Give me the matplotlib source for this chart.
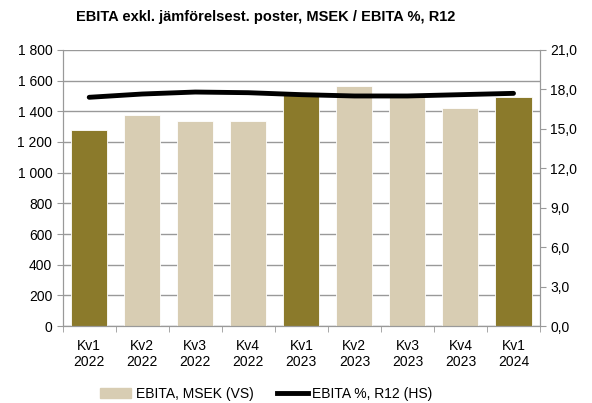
import matplotlib
matplotlib.use("Agg")
import matplotlib.pyplot as plt
import numpy as np

plt.rcParams['font.family'] = ['Liberation Sans', 'DejaVu Sans']

# data
categories = ["Kv1\n2022", "Kv2\n2022", "Kv3\n2022", "Kv4\n2022", "Kv1\n2023",
              "Kv2\n2023", "Kv3\n2023", "Kv4\n2023", "Kv1\n2024"]
ebita_msek = [1280, 1378, 1338, 1340, 1527, 1566, 1495, 1423, 1495]
ebita_pct = [17.4, 17.65, 17.8, 17.75, 17.6, 17.5, 17.5, 17.6, 17.7]
left_ticks = [0, 200, 400, 600, 800, 1000, 1200, 1400, 1600, 1800]
right_ticks = [0, 3, 6, 9, 12, 15, 18, 21]

dark = "#8B7A2B"
light = "#D8CDB3"
grey = "#999999"
bar_colors = [dark if c.startswith("Kv1") else light for c in categories]

fig = plt.figure(figsize=(5.92, 4.03), dpi=100)
ax = fig.add_axes([0.1059, 0.191, 0.8063, 0.685])
x = np.arange(len(categories))

ax.grid(axis='y', color=grey, linewidth=1)
ax.set_axisbelow(True)
ax.bar(x, ebita_msek, width=0.68, color=bar_colors, edgecolor="white", linewidth=0.6, zorder=2)
ax.set_ylim(0, 1800)
ax.set_xlim(-0.5, len(categories) - 0.5)
ax.set_yticks(left_ticks)
ax.set_yticklabels([f"{v:,}".replace(",", " ") for v in left_ticks], fontsize=10)
ax.set_xticks(x)
ax.set_xticklabels(categories, fontsize=10)
ax.set_xticks(np.arange(-0.5, len(categories)), minor=True)
ax.tick_params(axis='x', which='major', length=0, pad=9)
ax.tick_params(axis='x', which='minor', length=4, color=grey)
ax.tick_params(axis='y', length=4, color=grey)
for s in ax.spines.values():
    s.set_color(grey)
ax.spines['top'].set_visible(False)

ax2 = ax.twinx()
ax2.plot(x, ebita_pct, color="black", linewidth=3.5, solid_capstyle='round', solid_joinstyle='round', zorder=3)
ax2.set_ylim(0, 21)
ax2.set_yticks(right_ticks)
ax2.set_yticklabels([f"{v:.1f}".replace(".", ",") for v in right_ticks], fontsize=10)
ax2.tick_params(axis='y', length=4, color=grey)
for s in ax2.spines.values():
    s.set_color(grey)
ax2.spines['top'].set_visible(False)

fig.suptitle("EBITA exkl. jämförelsest. poster, MSEK / EBITA %, R12",
             fontsize=10.5, fontweight='bold', x=0.448, y=0.975)

handles = [plt.Rectangle((0, 0), 1, 1, color=light),
           plt.Line2D([0], [0], color="black", linewidth=3.5)]
fig.legend(handles, ["EBITA, MSEK (VS)", "EBITA %, R12 (HS)"], loc='lower center',
           bbox_to_anchor=(0.45, -0.025), ncol=2, frameon=False, fontsize=10,
           handlelength=2.2, handletextpad=0.35, columnspacing=1.7)

fig.savefig("out.png", dpi=100)
